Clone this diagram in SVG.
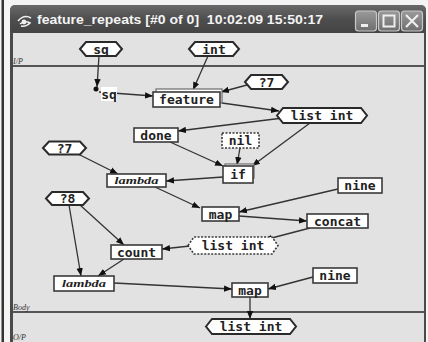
<svg xmlns="http://www.w3.org/2000/svg" width="428" height="342" viewBox="0 0 428 342">
<style>
.bx{fill:#fff;stroke:#3a3a3a;stroke-width:1.6}
.bk{fill:#fff;stroke:#6a6a6a;stroke-width:1.2}
.hx{fill:#fff;stroke:#2a2a2a;stroke-width:2}
.ds{fill:#fff;stroke:#3a3a3a;stroke-width:1.6;stroke-dasharray:2 1.5}
.t{font-family:"DejaVu Sans Mono","Liberation Mono",monospace;font-weight:bold;font-size:13px;fill:#222;text-anchor:middle}
.lm{font-family:"Liberation Serif","DejaVu Serif",serif;font-style:italic;font-weight:bold;font-size:10px;fill:#222;text-anchor:middle}
.sec{font-family:"Liberation Serif",serif;font-style:italic;font-size:8px;fill:#333}
.e{fill:none;stroke:#333;stroke-width:1.3;marker-end:url(#ah)}
.dv{stroke:#555;stroke-width:2}
</style>
<defs>
<marker id="ah" markerUnits="userSpaceOnUse" viewBox="0 0 8 8" refX="8" refY="4" markerWidth="8" markerHeight="8" orient="auto">
<path d="M0,0.8 L8,4 L0,7.2 Z" fill="#111"/>
</marker>
<linearGradient id="tb" x1="0" y1="0" x2="0" y2="1">
<stop offset="0" stop-color="#6a6a6a"/>
<stop offset="0.5" stop-color="#4e4e4e"/>
<stop offset="1" stop-color="#444"/>
</linearGradient>
<linearGradient id="bt" x1="0" y1="0" x2="0" y2="1">
<stop offset="0" stop-color="#9a9a9a"/>
<stop offset="1" stop-color="#6e6e6e"/>
</linearGradient>
</defs>
<rect x="0" y="0" width="428" height="342" fill="#f4f4f4"/>
<rect x="1.5" y="0" width="2.5" height="342" fill="#333"/>
<g id="window">
<path d="M10,342 V11 Q10,5 16,5 H420 Q426,5 426,11 V342 Z" fill="#4a4a4a"/>
<rect x="10" y="5" width="416" height="28" rx="5" fill="url(#tb)"/>
<rect x="13" y="33" width="411" height="309" fill="#e2e2e2"/>
<g id="icon" fill="none" stroke="#f0f0f0" stroke-width="1.6">
<path d="M18,21 Q24,14 31,18"/>
<path d="M20,24 Q25,20 30,23 Q26,27 21,26"/>
<circle cx="24" cy="22" r="1.6" fill="#f0f0f0"/>
</g>
<text x="37" y="24" font-family="Liberation Sans,Arial,sans-serif" font-weight="bold" font-size="13" fill="#f4f4f4" textLength="286" lengthAdjust="spacingAndGlyphs" xml:space="preserve">feature_repeats [#0 of 0]  10:02:09 15:50:17</text>
<g id="buttons" stroke="#c8c8c8" stroke-width="1.2">
<rect x="355.5" y="11" width="21" height="20" rx="3" fill="url(#bt)"/>
<rect x="378.5" y="11" width="21" height="20" rx="3" fill="url(#bt)"/>
<rect x="401.5" y="11" width="21" height="20" rx="3" fill="url(#bt)"/>
<rect x="361" y="24" width="7" height="3" fill="#eee" stroke="none"/>
<rect x="383.5" y="15.5" width="11" height="11" fill="none" stroke="#eee" stroke-width="2"/>
<path d="M406,15 L418,27 M418,15 L406,27" stroke="#eee" stroke-width="2.2"/>
</g>
</g>
<line class="dv" x1="13" y1="66" x2="424" y2="66"/>
<line class="dv" x1="13" y1="312" x2="424" y2="312"/>
<text class="sec" x="13" y="64">I/P</text>
<text class="sec" x="13" y="310">Body</text>
<text class="sec" x="13" y="340">O/P</text>
<g id="connectors">
<path class="e" d="M99,56 L97,87"/>
<circle cx="96" cy="89" r="2.5" fill="#111"/>
<path class="e" d="M99,92 L153,96"/>
<path class="e" d="M208,56 L193,90"/>
<path class="e" d="M247,85 L221,92"/>
<path class="e" d="M222,103 L279,111"/>
<path class="e" d="M283,118 L178,131"/>
<path class="e" d="M170,142 L223,166"/>
<path class="e" d="M240,148 L237,165"/>
<path class="e" d="M310,123 L252,166"/>
<path class="e" d="M223,177 L166,181"/>
<path class="e" d="M78,154 L118,174"/>
<path class="e" d="M155,187 L200,208"/>
<path class="e" d="M338,189 L239,212"/>
<path class="e" d="M239,216 L307,221"/>
<path class="e" d="M310,228 L264,240"/>
<path class="e" d="M190,246 L162,249"/>
<path class="e" d="M80,205 L124,245"/>
<path class="e" d="M69,205 L81,276"/>
<path class="e" d="M124,259 L98,276"/>
<path class="e" d="M114,283 L232,289"/>
<path class="e" d="M313,277 L268,289"/>
<path class="e" d="M250,297 L250,319"/>
</g>
<g id="n-sq"><polygon class="hx" points="80,49 86,42 116,42 122,49 116,56 86,56"/><text class="t" x="101" y="53.5">sq</text></g>
<g id="n-int"><polygon class="hx" points="189,49 195,42 233,42 239,49 233,56 195,56"/><text class="t" x="214" y="53.5">int</text></g>
<g id="n-sqlabel"><rect x="101" y="87" width="16" height="14" fill="#fff"/><text class="t" x="109" y="99" font-size="12">sq</text></g>
<g id="n-feature"><rect class="bk" x="156" y="89" width="66" height="14"/><rect class="bx" x="153" y="92" width="67" height="15"/><text class="t" x="186.5" y="104">feature</text></g>
<g id="n-q7a"><polygon class="hx" points="245,82 251,75 282,75 288,82 282,89 251,89"/><text class="t" x="266.5" y="86.5">?7</text></g>
<g id="n-listint1"><polygon class="hx" points="277,115.5 283,108 361,108 367,115.5 361,123 283,123"/><text class="t" x="322" y="120">list int</text></g>
<g id="n-done"><rect class="bx" x="134" y="128" width="44" height="14"/><text class="t" x="156" y="139.5">done</text></g>
<g id="n-nil"><rect class="ds" x="222" y="133" width="37" height="15"/><text class="t" x="240.5" y="144.5">nil</text></g>
<g id="n-if"><rect class="bk" x="225" y="164" width="29" height="14"/><rect class="bx" x="223" y="166" width="30" height="17"/><text class="t" x="238" y="179">if</text></g>
<g id="n-q7b"><polygon class="hx" points="43,148 49,141.5 80,141.5 86,148 80,154.5 49,154.5"/><text class="t" x="64.5" y="152.5">?7</text></g>
<g id="n-lambda1"><rect class="bx" x="107" y="174" width="59" height="13"/><text class="lm" x="136.5" y="184" textLength="44" lengthAdjust="spacingAndGlyphs">lambda</text></g>
<g id="n-nine1"><rect class="bx" x="338" y="178" width="44" height="15"/><text class="t" x="360" y="190">nine</text></g>
<g id="n-q8"><polygon class="hx" points="46,198.5 52,192 83,192 89,198.5 83,205 52,205"/><text class="t" x="67.5" y="203">?8</text></g>
<g id="n-map1"><rect class="bx" x="202" y="207" width="37" height="14"/><text class="t" x="220.5" y="218.5">map</text></g>
<g id="n-concat"><rect class="bx" x="307" y="214" width="61" height="14"/><text class="t" x="337.5" y="225.5">concat</text></g>
<g id="n-listint2"><path class="ds" d="M188,245.5 L194,237 H272 L278,245.5 L272,254 H194 Z"/><text class="t" x="233" y="250">list int</text></g>
<g id="n-count"><rect class="bx" x="111" y="245" width="51" height="14"/><text class="t" x="136.5" y="256.5">count</text></g>
<g id="n-nine2"><rect class="bx" x="313" y="268" width="44" height="15"/><text class="t" x="335" y="280">nine</text></g>
<g id="n-lambda2"><rect class="bx" x="54" y="276" width="60" height="15"/><text class="lm" x="84" y="287" textLength="44" lengthAdjust="spacingAndGlyphs">lambda</text></g>
<g id="n-map2"><rect class="bx" x="232" y="283" width="36" height="14"/><text class="t" x="250" y="294.5">map</text></g>
<g id="n-listint3"><polygon class="hx" points="206,326.5 212,319 290,319 296,326.5 290,334 212,334"/><text class="t" x="251" y="331">list int</text></g>
</svg>
